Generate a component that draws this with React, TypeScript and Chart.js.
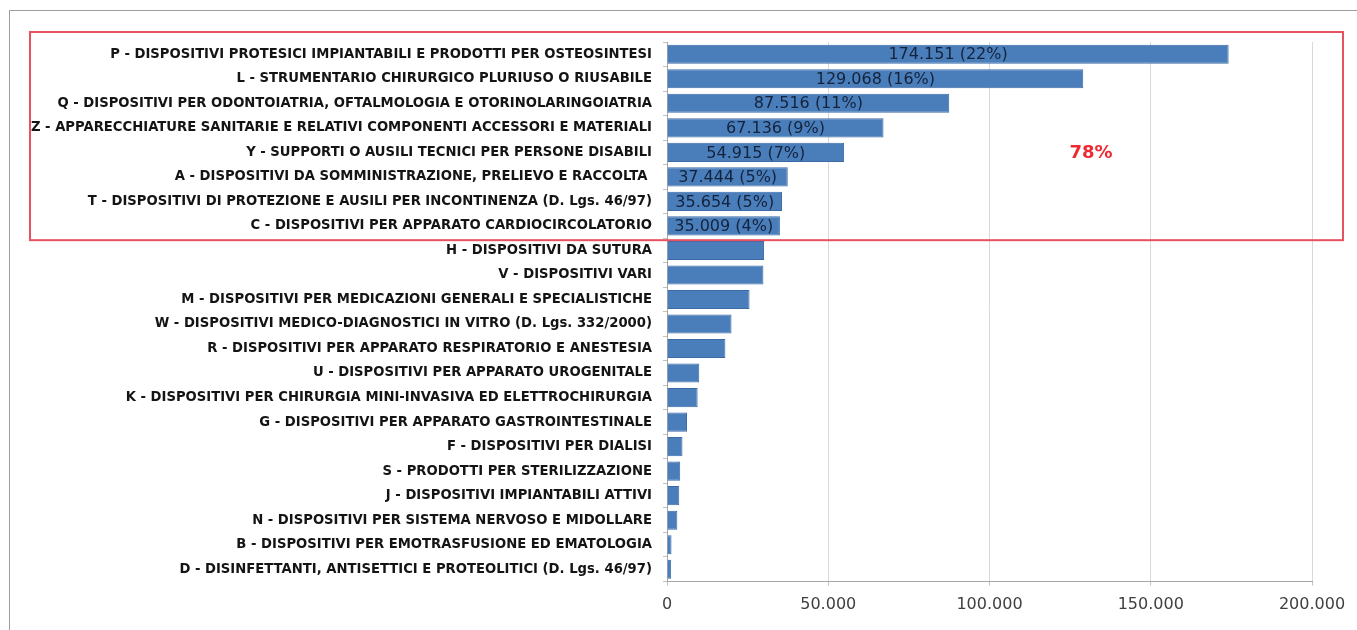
import React, { useEffect, useRef } from "react";
import { Chart, registerables } from "chart.js";

Chart.register(...registerables);

const categories: string[] = [
  "P - DISPOSITIVI PROTESICI IMPIANTABILI E PRODOTTI PER OSTEOSINTESI",
  "L - STRUMENTARIO CHIRURGICO PLURIUSO O RIUSABILE",
  "Q - DISPOSITIVI PER ODONTOIATRIA, OFTALMOLOGIA E OTORINOLARINGOIATRIA",
  "Z - APPARECCHIATURE SANITARIE E RELATIVI COMPONENTI ACCESSORI E MATERIALI",
  "Y - SUPPORTI O AUSILI TECNICI PER PERSONE DISABILI",
  "A - DISPOSITIVI DA SOMMINISTRAZIONE, PRELIEVO E RACCOLTA ",
  "T - DISPOSITIVI DI PROTEZIONE E AUSILI PER INCONTINENZA (D. Lgs. 46/97)",
  "C - DISPOSITIVI PER APPARATO CARDIOCIRCOLATORIO",
  "H - DISPOSITIVI DA SUTURA",
  "V - DISPOSITIVI VARI",
  "M - DISPOSITIVI PER MEDICAZIONI GENERALI E SPECIALISTICHE",
  "W - DISPOSITIVI MEDICO-DIAGNOSTICI IN VITRO (D. Lgs. 332/2000)",
  "R - DISPOSITIVI PER APPARATO RESPIRATORIO E ANESTESIA",
  "U - DISPOSITIVI PER APPARATO UROGENITALE",
  "K - DISPOSITIVI PER CHIRURGIA MINI-INVASIVA ED ELETTROCHIRURGIA",
  "G - DISPOSITIVI PER APPARATO GASTROINTESTINALE",
  "F - DISPOSITIVI PER DIALISI",
  "S - PRODOTTI PER STERILIZZAZIONE",
  "J - DISPOSITIVI IMPIANTABILI ATTIVI",
  "N - DISPOSITIVI PER SISTEMA NERVOSO E MIDOLLARE",
  "B - DISPOSITIVI PER EMOTRASFUSIONE ED EMATOLOGIA",
  "D - DISINFETTANTI, ANTISETTICI E PROTEOLITICI (D. Lgs. 46/97)",
];

const values: number[] = [
  174151, 129068, 87516, 67136, 54915, 37444, 35654, 35009,
  30100, 29900, 25600, 20000, 18100, 10000, 9500, 6200,
  4800, 4100, 3800, 3200, 1400, 1300,
];

// percentage shares shown on the highlighted (top) bars
const shares: string[] = ["22%", "16%", "11%", "9%", "7%", "5%", "5%", "4%"];

const highlightText = "78%";
const highlightAnchorValue = 131500;
const highlightAnchorIndex = 4;

const xTicks: number[] = [0, 50000, 100000, 150000, 200000];

function fmtIt(v: number): string {
  const s = Math.round(v).toString();
  return s.replace(/\B(?=(\d{3})+(?!\d))/g, ".");
}

const overlayPlugin = {
  id: "overlay",
  afterDatasetsDraw(chart: any) {
    const ctx = chart.ctx;
    const meta = chart.getDatasetMeta(0);
    const yScale = chart.scales.y;
    const xScale = chart.scales.x;
    const area = chart.chartArea;
    ctx.save();
    // data labels
    ctx.font = "16px 'DejaVu Sans'";
    ctx.fillStyle = "#14233c";
    ctx.textAlign = "center";
    ctx.textBaseline = "middle";
    for (let i = 0; i < shares.length; i++) {
      const bar = meta.data[i];
      const cx = (bar.x + bar.base) / 2;
      ctx.fillText(`${fmtIt(values[i])} (${shares[i]})`, cx, bar.y + 1);
    }
    // red highlight box
    const band = (yScale.bottom - yScale.top) / categories.length;
    const top = yScale.getPixelForValue(0) - band / 2 - 10;
    const bottom = yScale.getPixelForValue(shares.length - 1) + band / 2 + 2;
    ctx.strokeStyle = "#e8515f";
    ctx.lineWidth = 2;
    ctx.strokeRect(20, top, area.right + 31 - 20, bottom - top);
    // highlight percentage
    ctx.font = "bold 18px 'DejaVu Sans'";
    ctx.fillStyle = "#ee2a33";
    ctx.fillText(
      highlightText,
      xScale.getPixelForValue(highlightAnchorValue),
      yScale.getPixelForValue(highlightAnchorIndex) + 1
    );
    ctx.restore();
  },
};

export default function App() {
  const ref = useRef<HTMLCanvasElement | null>(null);
  useEffect(() => {
    if (!ref.current) return;
    const chart = new Chart(ref.current, {
      type: "bar",
      data: {
        labels: categories,
        datasets: [
          {
            data: values,
            backgroundColor: "#4a7ebb",
            borderColor: "#3b6aa6",
            borderWidth: 1,
            barPercentage: 0.78,
            categoryPercentage: 1,
          },
        ],
      },
      options: {
        indexAxis: "y",
        animation: false,
        responsive: false,
        devicePixelRatio: 1,
        layout: { padding: { top: 31, right: 45, left: 0, bottom: 0 } },
        plugins: { legend: { display: false }, tooltip: { enabled: false } },
        scales: {
          x: {
            min: 0,
            max: 200000,
            afterBuildTicks: (scale: any) => {
              scale.ticks = xTicks.map((v) => ({ value: v }));
            },
            ticks: {
              callback: (v: any) => fmtIt(Number(v)),
              font: { family: "'DejaVu Sans'", size: 16 },
              color: "#404040",
              padding: 10,
              maxRotation: 0,
            },
            grid: { color: "#d9d9d9", tickLength: 4, tickColor: "#c0c0c0" },
            border: { color: "#a6a6a6" },
            afterFit: (scale: any) => {
              scale.height = 48.5;
            },
          },
          y: {
            ticks: {
              autoSkip: false,
              font: { family: "'DejaVu Sans'", size: 13.2, weight: "bold" },
              color: "#141414",
              padding: 11,
            },
            grid: {
              display: true,
              drawOnChartArea: false,
              offset: true,
              tickLength: 4,
              color: "#c0c0c0",
            },
            border: { color: "#a6a6a6" },
            afterFit: (scale: any) => {
              scale.width = 657;
            },
          },
        },
      } as any,
      plugins: [overlayPlugin],
    });
    return () => chart.destroy();
  }, []);

  return (
    <div
      style={{
        position: "absolute",
        left: 9,
        top: 10,
        width: 1347,
        height: 619,
        borderLeft: "1px solid #9a9f98",
        borderTop: "1px solid #9a9f98",
        background: "#fff",
      }}
    >
      <canvas ref={ref} width={1347} height={619} style={{ display: "block" }} />
    </div>
  );
}
